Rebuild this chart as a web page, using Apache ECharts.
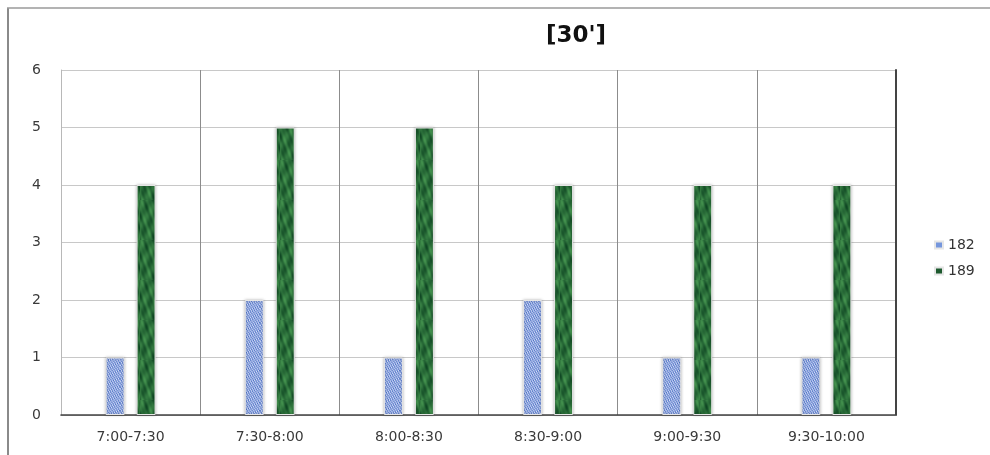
<!DOCTYPE html>
<html>
<head>
<meta charset="utf-8">
<script src="https://cdn.jsdelivr.net/npm/echarts@6/dist/echarts.min.js"></script>
<style>
html,body{margin:0;padding:0;background:#fff;}
#chart{width:990px;height:455px;}
</style>
</head>
<body>
<div id="chart"></div>
<script>
var categories = ['7:00-7:30', '7:30-8:00', '8:00-8:30', '8:30-9:00', '9:00-9:30', '9:30-10:00'];
var seriesNames = ['182', '189'];
var values182 = [1, 2, 1, 2, 1, 1];
var values189 = [4, 5, 5, 4, 4, 4];
var yTicks = [0, 1, 2, 3, 4, 5, 6];

function makePattern(kind) {
  var c = document.createElement('canvas');
  c.width = 20; c.height = 40;
  var ctx = c.getContext('2d');
  var x, y, v;
  for (y = 0; y < c.height; y++) {
    for (x = 0; x < c.width; x++) {
      if (kind === 'blue') {
        v = Math.sin(x * 2.3 + y * 1.1) * Math.cos(y * 1.9 - x * 0.7) + Math.sin((x * 7 + y * 3) * 0.53);
        var t = (v + 2) / 4;
        var r = Math.round(75 + t * 140), g = Math.round(110 + t * 115), b = Math.round(195 + t * 55);
        ctx.fillStyle = 'rgb(' + r + ',' + g + ',' + b + ')';
      } else {
        var s = (Math.sin(x * 0.45 + y * 0.31) + Math.cos(y * 0.19 - x * 0.75) + 0.6 * Math.sin(x * 1.3 - y * 0.5) + 2.6) / 5.2;
        var r2 = Math.round(15 + s * 55), g2 = Math.round(70 + s * 80), b2 = Math.round(35 + s * 45);
        ctx.fillStyle = 'rgb(' + r2 + ',' + g2 + ',' + b2 + ')';
      }
      ctx.fillRect(x, y, 1, 1);
    }
  }
  return { image: c, repeat: 'repeat' };
}

var chart = echarts.init(document.getElementById('chart'), null, { renderer: 'canvas' });
var axisFont = 'DejaVu Sans';
var option = {
  backgroundColor: '#ffffff',
  animation: false,
  title: {
    text: "[30']",
    left: 571,
    top: 20,
    textAlign: 'center',
    textStyle: { fontFamily: 'DejaVu Sans', fontWeight: 'bold', fontSize: 23, color: '#111' }
  },
  legend: {
    orient: 'vertical',
    left: 929,
    top: 233,
    itemWidth: 8,
    itemHeight: 7,
    itemGap: 12,
    icon: 'rect',
    textStyle: { fontFamily: axisFont, fontSize: 14, color: '#333' },
    data: [
      { name: seriesNames[0], itemStyle: { color: '#7596dc' } },
      { name: seriesNames[1], itemStyle: { color: '#1d5a2e' } }
    ]
  },
  grid: { left: 61, right: 94, top: 70, bottom: 40, containLabel: false },
  xAxis: [
    {
      type: 'category',
      data: categories,
      position: 'bottom',
      axisLine: { show: true, lineStyle: { color: '#b0b0b0', width: 1 } },
      axisTick: { show: false },
      splitLine: { show: true, lineStyle: { color: '#8c8c8c', width: 1 } },
      axisLabel: { fontFamily: axisFont, fontSize: 14, color: '#3a3a3a', margin: 15 }
    },
    {
      type: 'category',
      data: categories,
      position: 'top',
      axisLine: { show: true, lineStyle: { color: '#444', width: 1.5 } },
      axisTick: { show: false },
      axisLabel: { show: false },
      splitLine: { show: false }
    }
  ],
  yAxis: [
    {
      type: 'value',
      min: yTicks[0],
      max: yTicks[yTicks.length - 1],
      interval: 1,
      axisLine: { show: true, lineStyle: { color: '#b8b8b8' } },
      axisTick: { show: false },
      splitLine: { show: true, lineStyle: { color: '#c8c8c8', width: 1 } },
      axisLabel: { fontFamily: axisFont, fontSize: 14, color: '#3a3a3a', margin: 20 }
    },
    {
      type: 'value',
      position: 'right',
      min: yTicks[0],
      max: yTicks[yTicks.length - 1],
      interval: 1,
      axisLine: { show: true, lineStyle: { color: '#444', width: 2 } },
      axisTick: { show: false },
      axisLabel: { show: false },
      splitLine: { show: false }
    }
  ],
  series: [
    {
      name: seriesNames[0],
      type: 'bar',
      data: values182,
      barWidth: 19,
      barGap: '63%',
      itemStyle: {
        color: makePattern('blue'),
        borderColor: '#e6e6e6',
        borderWidth: 1,
        shadowBlur: 3,
        shadowColor: 'rgba(0,0,0,0.25)'
      }
    },
    {
      name: seriesNames[1],
      type: 'bar',
      data: values189,
      barWidth: 19,
      barGap: '63%',
      itemStyle: {
        color: makePattern('green'),
        borderColor: '#e6e6e6',
        borderWidth: 1,
        shadowBlur: 3,
        shadowColor: 'rgba(0,0,0,0.25)'
      }
    }
  ],
  graphic: [
    { type: 'line', shape: { x1: 8, y1: 8, x2: 8, y2: 455 }, style: { stroke: '#8a8a8a', lineWidth: 2 }, silent: true },
    { type: 'line', shape: { x1: 7, y1: 8, x2: 990, y2: 8 }, style: { stroke: '#9a9a9a', lineWidth: 1.5 }, silent: true }
  ]
};
chart.setOption(option);
</script>
</body>
</html>
